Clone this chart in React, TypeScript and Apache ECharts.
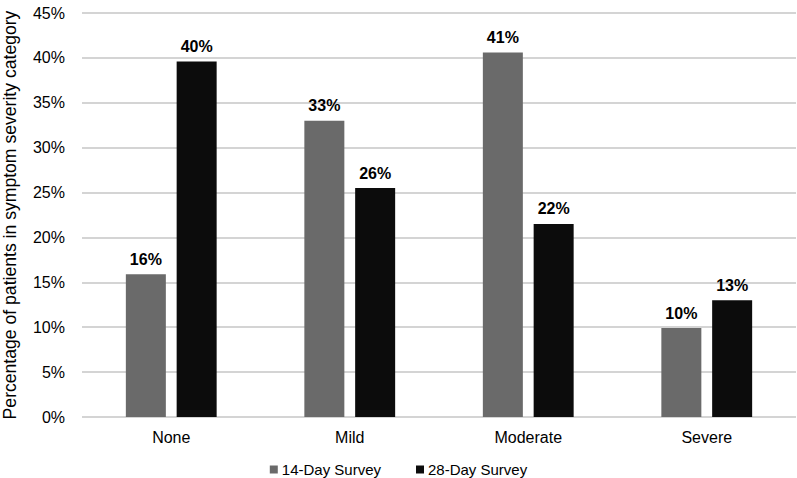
import React, { useEffect, useRef } from "react";
import * as echarts from "echarts";

const categories = ["None", "Mild", "Moderate", "Severe"];
const survey14 = [15.9, 33.0, 40.6, 9.9];
const survey28 = [39.6, 25.5, 21.5, 13.0];
const labels14 = ["16%", "33%", "41%", "10%"];
const labels28 = ["40%", "26%", "22%", "13%"];
const seriesNames = ["14-Day Survey", "28-Day Survey"];

const FONT = "Liberation Sans, Arial, sans-serif";

export default function App() {
  const ref = useRef<HTMLDivElement>(null);
  useEffect(() => {
    if (!ref.current) return;
    const chart = echarts.init(ref.current, undefined, { renderer: "svg" });
    const mkLabel = (labels: string[]) => ({
      show: true,
      position: "top",
      distance: 7,
      fontFamily: FONT,
      fontSize: 16,
      fontWeight: "bold",
      color: "#000",
      formatter: (p: any) => labels[p.dataIndex],
    });
    chart.setOption({
      animation: false,
      backgroundColor: "#fff",
      textStyle: { fontFamily: FONT },
      grid: {
        left: 82,
        right: 1,
        top: 13,
        bottom: 61,
        containLabel: false,
        outerBoundsMode: "none",
      },
      legend: {
        data: seriesNames,
        bottom: 0,
        left: "center",
        padding: [5, 5, 1, 5],
        itemWidth: 8,
        itemHeight: 8,
        itemGap: 35,
        icon: "rect",
        textStyle: { fontFamily: FONT, fontSize: 15, color: "#000", padding: [0, 0, 0, -1] },
      },
      xAxis: {
        type: "category",
        data: categories,
        axisLine: { show: false },
        axisTick: { show: false },
        axisLabel: { fontFamily: FONT, fontSize: 16, color: "#000", margin: 12 },
      },
      yAxis: {
        type: "value",
        min: 0,
        max: 45,
        interval: 5,
        name: "Percentage of patients in symptom severity category",
        nameLocation: "middle",
        nameGap: 64,
        nameTextStyle: { fontFamily: FONT, fontSize: 17.6, lineHeight: 17, color: "#000" },
        axisLine: { show: false },
        axisTick: { show: false },
        axisLabel: {
          fontFamily: FONT,
          fontSize: 16,
          color: "#000",
          margin: 17,
          formatter: (v: number) => `${v}%`,
        },
        splitLine: { lineStyle: { color: "#c6c6c6", width: 1.5 } },
      },
      series: [
        {
          name: seriesNames[0],
          type: "bar",
          data: survey14,
          barWidth: 40,
          barGap: "27%",
          itemStyle: { color: "#6a6a6a" },
          label: mkLabel(labels14),
        },
        {
          name: seriesNames[1],
          type: "bar",
          data: survey28,
          barWidth: 40,
          itemStyle: { color: "#0c0c0c" },
          label: mkLabel(labels28),
        },
      ],
    });
    return () => chart.dispose();
  }, []);
  return (
    <div
      ref={ref}
      style={{ width: 797, height: 478, position: "absolute", left: 0, top: 0 }}
    />
  );
}
